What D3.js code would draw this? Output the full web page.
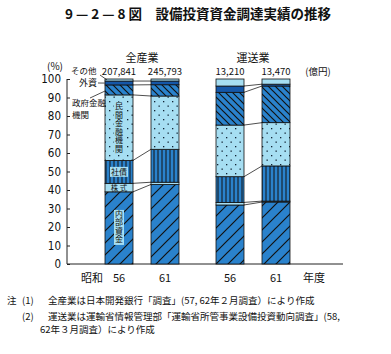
<!DOCTYPE html>
<html>
<head>
<meta charset="utf-8">
<script src="https://cdn.jsdelivr.net/npm/d3@7"></script>
<style>
  body { margin: 0; background: #fff; }
  text { font-family: "Noto Sans CJK JP", "Noto Sans", sans-serif; fill: #111; }
</style>
</head>
<body>
<script>
// data, bottom segment first
const groups = ["全産業", "運送業"];
const years = ["56", "61"];
const segments = ["内部資金", "株式", "社債", "民間金融機関", "政府金融機関", "外資", "その他"];
const totals = [["207,841", "245,793"], ["13,210", "13,470"]];
const zensangyo56 = [39, 4.6, 12.4, 35.4, 5.4, 2.1, 1.1];
const zensangyo61 = [43, 1.2, 17.8, 28.8, 6.1, 2.0, 1.1];
const unso56 = [31.9, 1.4, 13.9, 27.9, 17.7, 3.4, 3.8];
const unso61 = [33.5, 0.5, 19.0, 23.4, 19.8, 1.0, 2.8];
const yTicks = [0, 10, 20, 30, 40, 50, 60, 70, 80, 90, 100];

const series = [[zensangyo56, zensangyo61], [unso56, unso61]];

const width = 391, height = 354;
const svg = d3.select("body").append("svg")
    .attr("width", width).attr("height", height);

const blue = "#2a82cc", light = "#a6def2", dark = "#1557a8";

const defs = svg.append("defs");
function hatch(id, d, size, sw) {
    const p = defs.append("pattern").attr("id", id)
        .attr("patternUnits", "userSpaceOnUse")
        .attr("width", size).attr("height", size);
    p.append("rect").attr("width", size).attr("height", size).attr("fill", blue);
    p.append("path").attr("d", d).attr("stroke", "#111").attr("stroke-width", sw);
}
hatch("fwd", "M0,12 L12,0 M-3,3 L3,-3 M9,15 L15,9", 12, 1.2);
hatch("back", "M0,0 L7,7 M-2,5 L2,9 M5,-2 L9,2", 7, 1.2);
hatch("vert", "M2,0 V4", 4, 1);
const dots = defs.append("pattern").attr("id", "dots")
    .attr("patternUnits", "userSpaceOnUse").attr("width", 9).attr("height", 9);
dots.append("rect").attr("width", 9).attr("height", 9).attr("fill", light);
dots.append("rect").attr("x", 1).attr("y", 2).attr("width", 1.3).attr("height", 1.3).attr("fill", "#123");
dots.append("rect").attr("x", 5.5).attr("y", 6.5).attr("width", 1.3).attr("height", 1.3).attr("fill", "#123");

const fills = ["url(#fwd)", light, "url(#vert)", "url(#dots)", "url(#back)", dark, light];

const y = d3.scaleLinear().domain([0, 100]).range([264, 79]);
const xGroup = d3.scalePoint().domain(groups).range([142, 253]);
const xYear = d3.scalePoint().domain(years).range([-23, 23]);
const barW = 28;

// axes
const yAxis = svg.append("g").attr("transform", "translate(67,0)")
    .call(d3.axisLeft(y).tickValues(yTicks).tickSize(-3).tickPadding(6));
yAxis.select(".domain").attr("stroke", "#222").attr("d", `M0,${y(0)}V${y(100)}`);
yAxis.selectAll(".tick line").attr("stroke", "#222");
yAxis.selectAll("text").attr("font-size", 11.5).attr("fill", "#111")
    .style("font-family", "'Liberation Sans Narrow', 'DejaVu Sans Condensed', sans-serif");
svg.append("line").attr("x1", 67).attr("x2", 343).attr("y1", y(0)).attr("y2", y(0))
    .attr("stroke", "#222").attr("stroke-width", 1);

svg.append("text").attr("x", 55).attr("y", 70).attr("font-size", 10).attr("text-anchor", "middle").text("(%)");

// bars
groups.forEach((g, gi) => {
    const stacks = series[gi].map(vals => {
        let acc = 0;
        return vals.map(v => { const s = [acc, acc + v]; acc += v; return s; });
    });
    // connector lines between the two bars
    const xa = xGroup(g) + xYear("56") + barW / 2, xb = xGroup(g) + xYear("61") - barW / 2;
    for (let k = 0; k < segments.length - 1; k++) {
        svg.append("line").attr("x1", xa).attr("x2", xb)
            .attr("y1", y(stacks[0][k][1])).attr("y2", y(stacks[1][k][1]))
            .attr("stroke", "#222").attr("stroke-width", 0.8);
    }
    years.forEach((yr, yi) => {
        const cx = xGroup(g) + xYear(yr);
        const bar = svg.append("g");
        bar.selectAll("rect").data(stacks[yi]).enter().append("rect")
            .attr("x", cx - barW / 2).attr("width", barW)
            .attr("y", d => y(d[1])).attr("height", d => y(d[0]) - y(d[1]))
            .attr("fill", (d, i) => fills[i])
            .attr("stroke", "#111").attr("stroke-width", 0.8);
        svg.append("text").attr("x", cx).attr("y", 75).attr("text-anchor", "middle")
            .attr("font-size", 9.5).text(totals[gi][yi]);
        svg.append("text").attr("x", cx).attr("y", 282).attr("text-anchor", "middle")
            .attr("font-size", 11).text(yr);
    });
    svg.append("text").attr("x", xGroup(g)).attr("y", 62).attr("text-anchor", "middle")
        .attr("font-size", 11).text(g);
});

svg.append("text").attr("x", 318).attr("y", 75).attr("text-anchor", "middle").attr("font-size", 9.5).text("(億円)");
svg.append("text").attr("x", 92).attr("y", 282).attr("text-anchor", "middle").attr("font-size", 11).text("昭和");
svg.append("text").attr("x", 314).attr("y", 282).attr("text-anchor", "middle").attr("font-size", 11).text("年度");

// labels inside first bar
const bx = xGroup("全産業") + xYear("56");
const s0 = (() => { let acc = 0; return zensangyo56.map(v => { const s = [acc, acc + v]; acc += v; return s; }); })();
function vertical(str, cy) {
    svg.append("text").attr("x", bx).attr("y", cy)
        .attr("text-anchor", "middle").attr("font-size", 8)
        .style("writing-mode", "vertical-rl").style("letter-spacing", "0.5px")
        .text(str);
}
function boxed(x, yy, w, h) {
    svg.append("rect").attr("x", x).attr("y", yy).attr("width", w).attr("height", h).attr("fill", light);
}
// 民間金融機関
boxed(bx - 5, y((s0[3][0] + s0[3][1]) / 2) - 26, 10, 52);
vertical("民間金融機関", y((s0[3][0] + s0[3][1]) / 2));
boxed(bx - 9, y((s0[2][0] + s0[2][1]) / 2) - 5, 18, 10);
svg.append("text").attr("x", bx).attr("y", y((s0[2][0] + s0[2][1]) / 2) + 3)
    .attr("text-anchor", "middle").attr("font-size", 8).text("社債");
svg.append("text").attr("x", bx).attr("y", y((s0[1][0] + s0[1][1]) / 2) + 3)
    .attr("text-anchor", "middle").attr("font-size", 7.5).text("株 式");
boxed(bx - 5, y(s0[0][1] / 2) - 18, 10, 35);
vertical("内部資金", y(s0[0][1] / 2) - 1);

// left callouts
const lx = bx - barW / 2;
svg.append("text").attr("x", 71).attr("y", 74).attr("font-size", 8.5).text("その他");
svg.append("line").attr("x1", 100).attr("y1", 75).attr("x2", lx + 2).attr("y2", y(99.5)).attr("stroke", "#222").attr("stroke-width", 0.8);
svg.append("text").attr("x", 79).attr("y", 86).attr("font-size", 9).text("外資");
svg.append("line").attr("x1", 98).attr("y1", 83).attr("x2", lx).attr("y2", y(97.8)).attr("stroke", "#222").attr("stroke-width", 0.8);
svg.append("text").attr("x", 72).attr("y", 106).attr("font-size", 8.5).text("政府金融");
svg.append("text").attr("x", 72).attr("y", 118).attr("font-size", 8.5).text("機関");
svg.append("line").attr("x1", 90).attr("y1", 98).attr("x2", lx).attr("y2", y(93.5)).attr("stroke", "#222").attr("stroke-width", 0.8);

// title
svg.append("text").attr("x", 198).attr("y", 19).attr("text-anchor", "middle")
    .attr("font-size", 13.5).attr("font-weight", "bold")
    .text("9 — 2 — 8 図　設備投資資金調達実績の推移");

// notes
const notes = [
    [7, 304, "注"], [22, 304, "(1)"], [48, 304, "全産業は日本開発銀行「調査」(57, 62年２月調査）により作成"],
    [22, 320, "(2)"], [48, 320, "運送業は運輸省情報管理部「運輸省所管事業設備投資動向調査」(58,"],
    [40, 333, "62年３月調査）により作成"]
];
notes.forEach(n => svg.append("text").attr("x", n[0]).attr("y", n[1]).attr("font-size", 9.5).text(n[2]));
</script>
</body>
</html>
